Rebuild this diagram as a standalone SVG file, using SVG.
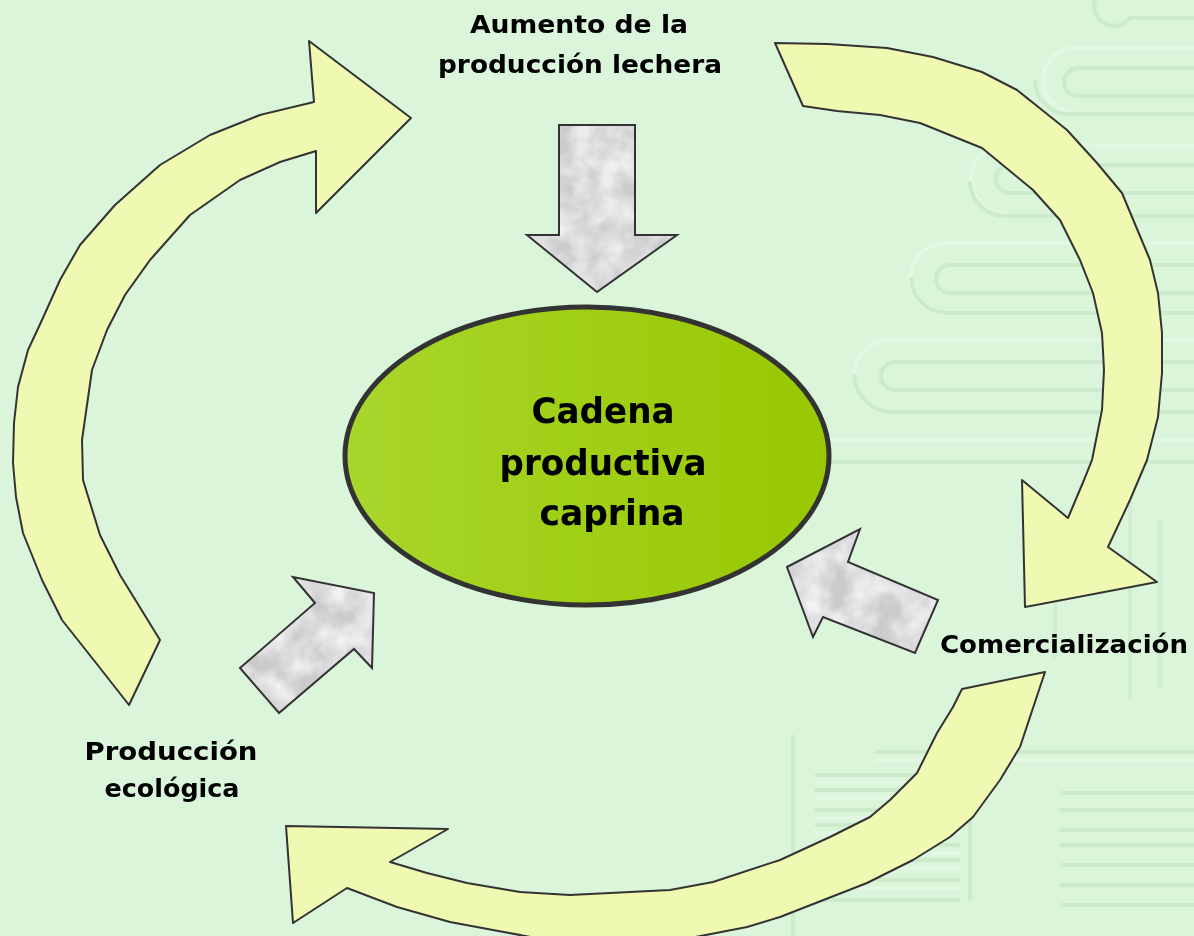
<svg xmlns="http://www.w3.org/2000/svg" width="1194" height="936" viewBox="0 0 1194 936">
<defs>
  <linearGradient id="ellGrad" x1="0" y1="0" x2="1" y2="0">
    <stop offset="0" stop-color="#a9d62c"/>
    <stop offset="1" stop-color="#97c800"/>
  </linearGradient>
  <filter id="marble" x="0" y="0" width="1" height="1">
    <feTurbulence type="fractalNoise" baseFrequency="0.04" numOctaves="3" seed="4" result="n"/>
    <feColorMatrix in="n" type="matrix" values="0 0 0 0 0.93  0 0 0 0 0.93  0 0 0 0 0.94  -1.6 0 0 0 1.15" result="g"/>
    <feFlood flood-color="#cbcbce" result="dark"/>
    <feComposite in="g" in2="dark" operator="over" result="m"/>
    <feComposite in="m" in2="SourceGraphic" operator="in"/>
  </filter>
  <style>
    .yel { fill: #eff9b2; stroke: #333333; stroke-width: 2; stroke-linejoin: round; }
    .gry { fill: #e2e2e6; stroke: none; }
    .gout { fill: none; stroke: #333333; stroke-width: 2; stroke-linejoin: miter; }
    .lbl { font-family: "DejaVu Sans", "Liberation Sans", sans-serif; font-weight: bold; fill: #000; text-anchor: middle; }
    .wm { fill: none; stroke: #c3e5c3; stroke-width: 4; }
    .wmh { fill: none; stroke: #eafaea; stroke-width: 4; }
  </style>
</defs>

<rect x="0" y="0" width="1194" height="936" fill="#daf5da"/>

<g id="watermark" opacity="0.6">
  <path class="wm" d="M1194,18 H1130 A20,20 0 0 1 1095,0"/>
  <path class="wmh" d="M1194,48 H1075 A32,32 0 0 0 1075,112"/>
  <path class="wm" d="M1194,68 H1078 A14,14 0 0 0 1078,96 H1194"/>
  <path class="wm" d="M1194,114 H1070 A34,34 0 0 1 1035,80"/>
  <path class="wmh" d="M1194,145 H1005 A34,34 0 0 0 1005,213"/>
  <path class="wm" d="M1194,165 H1010 A14,14 0 0 0 1010,193 H1194"/>
  <path class="wm" d="M1194,216 H1005 A35,35 0 0 1 970,181"/>
  <path class="wmh" d="M1194,243 H945 A35,35 0 0 0 945,313"/>
  <path class="wm" d="M1194,265 H950 A14,14 0 0 0 950,293 H1194"/>
  <path class="wm" d="M1194,313 H947 A36,36 0 0 1 911,277"/>
  <path class="wmh" d="M1194,340 H890 A36,36 0 0 0 890,412"/>
  <path class="wm" d="M1194,362 H895 A14,14 0 0 0 895,390 H1194"/>
  <path class="wm" d="M1194,412 H892 A38,38 0 0 1 854,374"/>
  <path class="wmh" d="M830,440 H1194"/>
  <path class="wm" d="M830,462 H1194"/>
  <path class="wm" d="M1130,495 V700 M1160,520 V690" opacity="0.6"/>
  <path class="wm" d="M1055,510 V660" opacity="0.6"/>
  <path class="wm" d="M793,735 V936"/>
  <path class="wm" d="M875,752 H1194 M815,775 H960 M815,790 H960 M815,810 H960 M815,825 H960 M815,845 H960 M815,860 H960 M815,880 H960 M815,900 H960"/>
  <path class="wmh" d="M875,760 H1194 M815,783 H960 M815,798 H960 M815,818 H960 M815,833 H960 M815,853 H960 M815,868 H960 M815,888 H960"/>
  <path class="wm" d="M970,800 V900 M1060,793 H1194 M1060,810 H1194 M1060,830 H1194 M1060,845 H1194 M1060,865 H1194 M1060,885 H1194 M1060,905 H1194"/>
</g>

<g id="connectors">
  <!-- left curved arrow: Produccion ecologica -> Aumento -->
  <polygon class="yel" points="129,705 100,668 62,620 42,580 23,533 16,497 13,463 14,423 18,387 28,350 42,320 60,280 80,245 115,205 160,165 210,135 260,115 314,102 309,41 411,118 316,213 316,151 280,162 240,180 190,215 150,260 125,295 107,330 92,370 82,440 83,480 100,535 120,575 160,640"/>
  <!-- right curved arrow: Aumento -> Comercializacion -->
  <polygon class="yel" points="775,43 828,44 887,48 933,57 982,72 1017,90 1067,130 1097,163 1122,193 1150,260 1158,293 1162,333 1162,373 1158,417 1147,460 1130,500 1108,547 1157,582 1025,607 1022,480 1068,518 1084,480 1092,460 1102,410 1104,370 1102,333 1093,293 1080,260 1060,220 1033,190 982,148 920,123 880,115 837,111 803,106"/>
  <!-- bottom curved arrow: Comercializacion -> Produccion ecologica -->
  <polygon class="yel" points="1045,672 1033,708 1020,747 1000,780 973,817 950,837 913,860 867,883 780,917 747,927 680,940 547,940 493,930 450,922 397,907 347,888 293,923 286,826 448,829 390,862 427,873 467,883 520,892 570,895 670,890 713,882 780,860 830,837 870,817 890,800 917,773 937,733 953,707 962,689"/>
  <!-- grey block arrows -->
  <polygon class="gry" filter="url(#marble)" points="559,125 635,125 635,235 677,235 597,292 527,235 559,235"/>
  <polygon class="gout" points="559,125 635,125 635,235 677,235 597,292 527,235 559,235"/>
  <polygon class="gry" filter="url(#marble)" points="240,668 315,603 293,577 374,593 372,668 354,649 279,713"/>
  <polygon class="gout" points="240,668 315,603 293,577 374,593 372,668 354,649 279,713"/>
  <polygon class="gry" filter="url(#marble)" points="787,567 860,529 848,562 938,600 915,653 823,617 813,637"/>
  <polygon class="gout" points="787,567 860,529 848,562 938,600 915,653 823,617 813,637"/>
</g>

<g id="node-center">
  <ellipse cx="587" cy="456" rx="242" ry="149" fill="url(#ellGrad)" stroke="#333333" stroke-width="5"/>
  <text class="lbl" x="603" y="423" font-size="36" textLength="143" lengthAdjust="spacingAndGlyphs">Cadena</text>
  <text class="lbl" x="603" y="475" font-size="36" textLength="207" lengthAdjust="spacingAndGlyphs">productiva</text>
  <text class="lbl" x="612" y="525" font-size="36" textLength="145" lengthAdjust="spacingAndGlyphs">caprina</text>
</g>

<g id="node-aumento">
  <text class="lbl" x="579" y="33" font-size="25" textLength="218" lengthAdjust="spacingAndGlyphs">Aumento de la</text>
  <text class="lbl" x="580" y="73" font-size="25" textLength="284" lengthAdjust="spacingAndGlyphs">producción lechera</text>
</g>

<g id="node-comercializacion">
  <text class="lbl" x="1064" y="653" font-size="25" textLength="248" lengthAdjust="spacingAndGlyphs">Comercialización</text>
</g>

<g id="node-produccion">
  <text class="lbl" x="171" y="760" font-size="25" textLength="173" lengthAdjust="spacingAndGlyphs">Producción</text>
  <text class="lbl" x="172" y="797" font-size="25" textLength="135" lengthAdjust="spacingAndGlyphs">ecológica</text>
</g>
</svg>
